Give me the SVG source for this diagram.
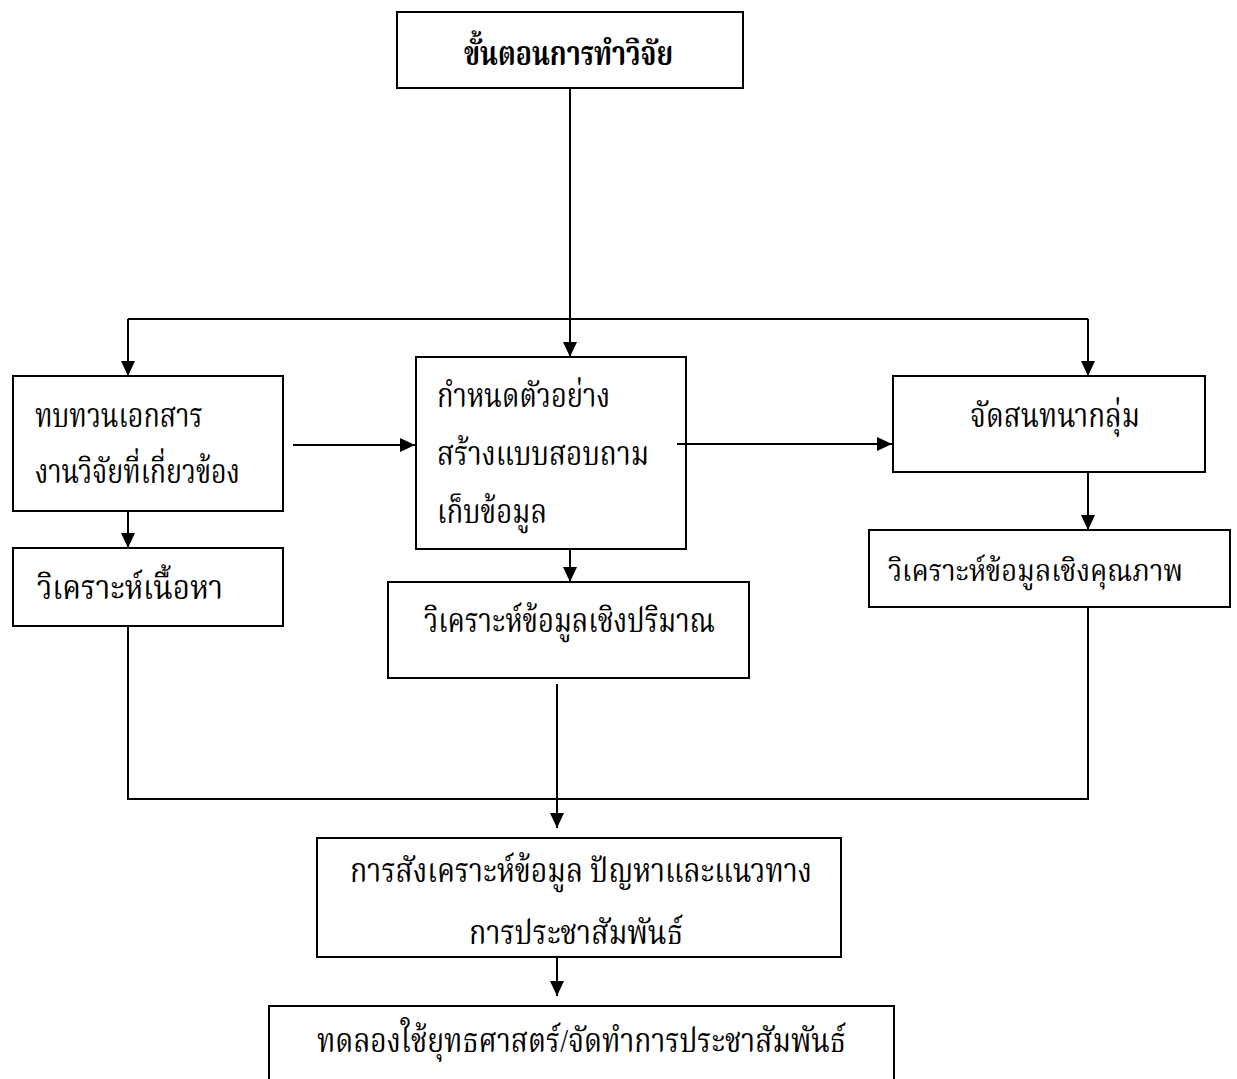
<svg xmlns="http://www.w3.org/2000/svg" width="1237" height="1079" viewBox="0 0 1237 1079">
<style>
  .box { fill: #ffffff; stroke: #000000; stroke-width: 2; }
  .conn { fill: none; stroke: #000000; stroke-width: 2; }
  .lbl { font-family: 'Liberation Serif', 'Noto Serif Thai', 'Norasi', 'Noto Sans Thai', 'DejaVu Serif', serif; font-size: 33px; fill: #000000; }
  .sm { font-size: 31px; }
  .bold { font-weight: bold; }
</style>
<defs>
  <marker id="arrow" markerUnits="userSpaceOnUse" markerWidth="16" markerHeight="14" refX="15" refY="7" orient="auto">
    <path d="M0,0 L15,7 L0,14 z" fill="#000000"/>
  </marker>
</defs>
<rect width="1237" height="1079" fill="#ffffff"/>

<g id="node-start">
  <rect class="box" x="397" y="12" width="346" height="76"/>
  <text class="lbl bold" x="464" y="65" textLength="209" lengthAdjust="spacingAndGlyphs">ขั้นตอนการทำวิจัย</text>
</g>
<g id="node-review">
  <rect class="box" x="13" y="376" width="270" height="135"/>
  <text class="lbl" x="35" y="427" textLength="168" lengthAdjust="spacingAndGlyphs">ทบทวนเอกสาร</text>
  <text class="lbl" x="35" y="483" textLength="205" lengthAdjust="spacingAndGlyphs">งานวิจัยที่เกี่ยวข้อง</text>
</g>
<g id="node-content">
  <rect class="box" x="13" y="548" width="270" height="78"/>
  <text class="lbl" x="37" y="599" textLength="186" lengthAdjust="spacingAndGlyphs">วิเคราะห์เนื้อหา</text>
</g>
<g id="node-sample">
  <rect class="box" x="416" y="357" width="270" height="192"/>
  <text class="lbl" x="437" y="407" textLength="173" lengthAdjust="spacingAndGlyphs">กำหนดตัวอย่าง</text>
  <text class="lbl" x="437" y="465" textLength="212" lengthAdjust="spacingAndGlyphs">สร้างแบบสอบถาม</text>
  <text class="lbl" x="437" y="523" textLength="110" lengthAdjust="spacingAndGlyphs">เก็บข้อมูล</text>
</g>
<g id="node-quant">
  <rect class="box" x="388" y="582" width="361" height="96"/>
  <text class="lbl" x="424" y="632" textLength="291" lengthAdjust="spacingAndGlyphs">วิเคราะห์ข้อมูลเชิงปริมาณ</text>
</g>
<g id="node-focus">
  <rect class="box" x="893" y="376" width="312" height="96"/>
  <text class="lbl" x="970" y="427" textLength="170" lengthAdjust="spacingAndGlyphs">จัดสนทนากลุ่ม</text>
</g>
<g id="node-qual">
  <rect class="box" x="869" y="530" width="361" height="77"/>
  <text class="lbl sm" x="888" y="581" textLength="295" lengthAdjust="spacingAndGlyphs">วิเคราะห์ข้อมูลเชิงคุณภาพ</text>
</g>
<g id="node-synthesis">
  <rect class="box" x="317" y="838" width="524" height="119"/>
  <text class="lbl" x="350" y="882" textLength="462" lengthAdjust="spacingAndGlyphs">การสังเคราะห์ข้อมูล ปัญหาและแนวทาง</text>
  <text class="lbl" x="469" y="944" textLength="214" lengthAdjust="spacingAndGlyphs">การประชาสัมพันธ์</text>
</g>
<g id="node-trial">
  <rect class="box" x="269" y="1006" width="625" height="90"/>
  <text class="lbl" x="317" y="1052" textLength="529" lengthAdjust="spacingAndGlyphs">ทดลองใช้ยุทธศาสตร์/จัดทำการประชาสัมพันธ์</text>
</g>

<g id="connectors">
  <line class="conn" x1="570" y1="88" x2="570" y2="357" marker-end="url(#arrow)"/>
  <line class="conn" x1="128" y1="319" x2="1088" y2="319"/>
  <line class="conn" x1="128" y1="319" x2="128" y2="376" marker-end="url(#arrow)"/>
  <line class="conn" x1="1088" y1="319" x2="1088" y2="376" marker-end="url(#arrow)"/>
  <line class="conn" x1="128" y1="511" x2="128" y2="548" marker-end="url(#arrow)"/>
  <line class="conn" x1="293" y1="445" x2="415" y2="445" marker-end="url(#arrow)"/>
  <line class="conn" x1="677" y1="444" x2="892" y2="444" marker-end="url(#arrow)"/>
  <line class="conn" x1="570" y1="549" x2="570" y2="582" marker-end="url(#arrow)"/>
  <line class="conn" x1="1088" y1="472" x2="1088" y2="530" marker-end="url(#arrow)"/>
  <polyline class="conn" points="128,626 128,799 1088,799 1088,607"/>
  <line class="conn" x1="557" y1="684" x2="557" y2="828" marker-end="url(#arrow)"/>
  <line class="conn" x1="557" y1="957" x2="557" y2="996" marker-end="url(#arrow)"/>
</g>
</svg>
